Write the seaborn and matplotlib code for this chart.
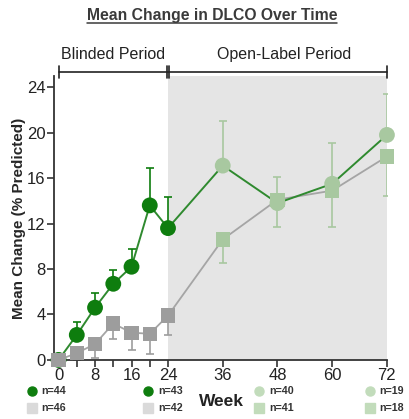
import matplotlib
matplotlib.use("Agg")
import matplotlib.pyplot as plt
import matplotlib.transforms as mtransforms
import seaborn as sns
import pandas as pd
import numpy as np

weeks = [0, 4, 8, 12, 16, 20, 24, 36, 48, 60, 72]
green_mean = [0, 2.2, 4.6, 6.7, 8.2, 13.6, 11.6, 17.1, 13.8, 15.5, 19.8]
green_upper = [0, 3.3, 5.9, 7.9, 9.8, 16.9, 14.3, 21.0, 16.1, 19.1, 23.4]
grey_mean = [0, 0.6, 1.4, 3.2, 2.4, 2.3, 3.9, 10.6, 14.1, 14.9, 17.9]
grey_lower = [0, 0.0, 0.2, 1.8, 0.9, 0.5, 2.2, 8.5, 11.7, 11.7, 14.4]
period = ["Blinded"] * 7 + ["Open-Label"] * 4

xtick_pos = [0, 4, 8, 12, 16, 20, 24, 36, 48, 60, 72]
xtick_lab = ["0", "", "8", "", "16", "", "24", "36", "48", "60", "72"]
ytick_pos = [0, 4, 8, 12, 16, 20, 24]

n_x = [-5.9, 19.7, 44.0, 68.2]
n_circle = ["n=44", "n=43", "n=40", "n=19"]
n_square = ["n=46", "n=42", "n=41", "n=18"]

DARK_GREEN = "#0e7d0e"
LINE_GREEN = "#2f8a2f"
GREY = "#9d9d9d"
LIGHT_GREEN = "#a8c8a0"
SHADE = "#e5e5e5"

sns.set_theme(style="white")
plt.rcParams["font.family"] = ["Liberation Sans", "DejaVu Sans"]

df = pd.DataFrame({"week": weeks, "green": green_mean, "grey": grey_mean,
                   "gup": green_upper, "glo": grey_lower, "period": period})

fig = plt.figure(figsize=(4.09, 4.19), dpi=100)
ax = fig.add_axes([0.132, 0.141, 0.814, 0.678])

ax.axvspan(24, 72, color=SHADE, zorder=0, lw=0)

sns.lineplot(data=df, x="week", y="grey", color="#a5a5a5", lw=1.3, ax=ax, zorder=2)
sns.lineplot(data=df, x="week", y="green", color=LINE_GREEN, lw=1.4, ax=ax, zorder=3)

for per, gc, sc in [("Blinded", DARK_GREEN, GREY), ("Open-Label", LIGHT_GREEN, LIGHT_GREEN)]:
    sub = df[df.period == per]
    ax.errorbar(sub.week, sub.green, yerr=[np.zeros(len(sub)), sub.gup - sub.green],
                fmt="none", ecolor=gc, elinewidth=1.2, capsize=3, capthick=1.2, zorder=2.5)
    ax.errorbar(sub.week, sub.grey, yerr=[sub.grey - sub.glo, np.zeros(len(sub))],
                fmt="none", ecolor=sc, elinewidth=1.2, capsize=3, capthick=1.2, zorder=2.5)

for per, gc, sc in [("Blinded", DARK_GREEN, GREY), ("Open-Label", LIGHT_GREEN, LIGHT_GREEN)]:
    sub = df[df.period == per]
    sns.scatterplot(data=sub, x="week", y="green", color=gc, marker="o", s=130,
                    edgecolor="none", ax=ax, zorder=4, clip_on=False)
for per, gc, sc in [("Blinded", DARK_GREEN, GREY), ("Open-Label", LIGHT_GREEN, LIGHT_GREEN)]:
    sub = df[df.period == per]
    sns.scatterplot(data=sub, x="week", y="grey", color=sc, marker="s", s=105,
                    edgecolor="none", ax=ax, zorder=5 if per == "Blinded" else 3.5, clip_on=False)

ax.set_xlim(-1, 72)
ax.set_ylim(0, 25)
ax.set_xticks(xtick_pos)
ax.set_xticklabels(xtick_lab)
ax.set_yticks(ytick_pos)
ax.tick_params(axis="both", direction="out", length=5, width=1.2, color="#333333",
               labelsize=12, labelcolor="#222222", pad=1, bottom=True, left=True)
for s in ["top", "right"]:
    ax.spines[s].set_visible(False)
for s in ["left", "bottom"]:
    ax.spines[s].set_color("#333333")
    ax.spines[s].set_linewidth(1.3)

ax.set_xlabel("")
ax.set_ylabel("Mean Change (% Predicted)", fontsize=11, fontweight="bold", labelpad=1)

# bracket
by = 25.35
kw = dict(color="#222222", lw=1.2, clip_on=False)
ax.plot([0, 72], [by, by], **kw)
for xv in [0, 23.7, 24.3, 72]:
    ax.plot([xv, xv], [by - 0.55, by + 0.55], **kw)
ax.text(12, by + 0.85, "Blinded Period", ha="center", va="bottom", fontsize=11.5, color="#222222")
ax.text(49.5, by + 0.85, "Open-Label Period", ha="center", va="bottom", fontsize=11.5, color="#222222")

# title with underline
t = fig.text(0.518, 0.962, "Mean Change in DLCO Over Time", ha="center", va="center",
             fontsize=11.3, fontweight="bold", color="#3a3a3a")
fig.canvas.draw()
bb = t.get_window_extent().transformed(fig.transFigure.inverted())
fig.add_artist(plt.Line2D([bb.x0, bb.x1], [bb.y0 + 0.001, bb.y0 + 0.001], color="#3a3a3a",
                          lw=1.1, transform=fig.transFigure))

# n labels
trans = mtransforms.blended_transform_factory(ax.transData, ax.transAxes)
mcol_c = [DARK_GREEN, DARK_GREEN, "#c2dcbb", "#c2dcbb"]
mcol_s = ["#dadada", "#dadada", "#c2dcbb", "#c2dcbb"]
for xv, lc, ls, cc, scol in zip(n_x, n_circle, n_square, mcol_c, mcol_s):
    ax.plot([xv], [-0.109], marker="o", ms=6.5, color=cc, transform=trans, clip_on=False, ls="none")
    ax.plot([xv], [-0.169], marker="s", ms=6.5, color=scol, transform=trans, clip_on=False, ls="none")
    ax.text(xv + 2.2, -0.109, lc, transform=trans, fontsize=7.7, fontweight="bold",
            va="center", ha="left", color="#333333")
    ax.text(xv + 2.2, -0.169, ls, transform=trans, fontsize=7.7, fontweight="bold",
            va="center", ha="left", color="#333333")

ax.text(35.7, -0.145, "Week", transform=trans, fontsize=12.5, fontweight="bold",
        ha="center", va="center", color="#222222")

fig.savefig("out.png", dpi=100)
